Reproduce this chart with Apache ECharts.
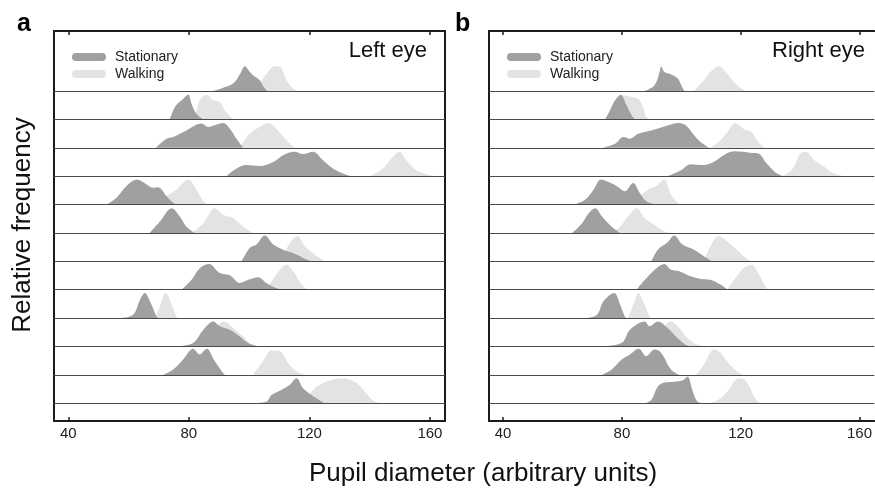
<!DOCTYPE html>
<html>
<head>
<meta charset="utf-8">
<script src="https://cdn.jsdelivr.net/npm/echarts@6/dist/echarts.min.js"></script>
<style>
  html, body { margin: 0; padding: 0; background: #fff; }
  #chart { width: 875px; height: 490px; }
</style>
</head>
<body>
<div id="chart"></div>
<script>
// density curves, [pupil diameter, relative height of the row], top row first
const leftStationary = [
  [[88,0],[91,0.1],[94.7,0.26],[97,0.6],[98.6,0.87],[100,0.7],[101.3,0.55],[103.5,0.38],[104.8,0.15],[106,0]],
  [[73.7,0],[75.4,0.44],[77.6,0.67],[79.8,0.87],[80.9,0.55],[82.5,0.2],[84.8,0]],
  [[69,0],[72.6,0.32],[74.8,0.38],[79.2,0.61],[84.2,0.85],[86.4,0.73],[88.6,0.79],[91.4,0.87],[93.6,0.67],[95.8,0.32],[98,0]],
  [[92.5,0],[95.8,0.27],[99.1,0.39],[103.5,0.36],[108,0.5],[111.3,0.74],[115.1,0.86],[117.9,0.78],[121.2,0.86],[124.5,0.56],[127.8,0.27],[131.2,0.09],[133.5,0]],
  [[52.7,0],[56,0.24],[59.3,0.65],[62.7,0.88],[66,0.71],[68.2,0.59],[69.8,0.61],[72.6,0.29],[74.8,0.06],[76,0]],
  [[67,0],[70.4,0.4],[74.3,0.87],[77,0.58],[79.2,0.22],[82,0]],
  [[97.5,0],[100.2,0.47],[102.4,0.59],[105.2,0.91],[108,0.59],[111.3,0.41],[114.6,0.29],[117.9,0.12],[120.7,0]],
  [[77.6,0],[80.9,0.35],[83.6,0.76],[86.7,0.91],[90.3,0.59],[93.6,0.51],[96.9,0.24],[99.7,0.35],[103,0.44],[105.7,0.24],[109,0.06],[111.3,0]],
  [[57,0],[61.5,0.12],[63.8,0.65],[65.4,0.88],[67.1,0.59],[69.3,0.05],[70,0]],
  [[76,0],[81.4,0.12],[84.8,0.59],[88.1,0.88],[90.3,0.71],[93.6,0.59],[96.9,0.35],[99.7,0.12],[103,0]],
  [[71.5,0],[74.8,0.19],[78.1,0.54],[81.4,0.92],[83.6,0.72],[85.9,0.92],[88.6,0.48],[91.4,0.06],[92,0]],
  [[101.3,0],[105.7,0.05],[107.4,0.29],[110.7,0.47],[113.5,0.65],[115.7,0.88],[117.9,0.53],[120.7,0.29],[123.5,0.1],[125.1,0]]
];
const leftWalking = [
  [[102.5,0],[103.5,0.25],[105.7,0.6],[108.5,0.87],[110.2,0.85],[112.4,0.38],[114.5,0.1],[116.2,0]],
  [[82,0],[83.6,0.67],[85.9,0.87],[88.1,0.67],[90.3,0.61],[91.9,0.32],[94.7,0]],
  [[96.9,0],[100.2,0.49],[103.5,0.73],[106.3,0.87],[109,0.67],[112.4,0.26],[115.1,0]],
  [[140,0],[144.4,0.27],[147.7,0.68],[149.9,0.86],[152.2,0.56],[155.5,0.21],[159.9,0.04],[162,0]],
  [[69.3,0],[72.6,0.29],[75.9,0.53],[79.8,0.88],[82.5,0.53],[84.8,0.12],[86.4,0]],
  [[80.9,0],[84.8,0.34],[88.6,0.87],[91.4,0.64],[94.7,0.52],[98,0.22],[101.3,0]],
  [[110.2,0],[113.6,0.65],[116,0.88],[118.5,0.53],[121.8,0.24],[125.1,0]],
  [[105.7,0],[109,0.53],[112.4,0.88],[115.1,0.59],[117.3,0.18],[119.6,0]],
  [[68.7,0],[70.4,0.41],[72.3,0.88],[74.3,0.47],[75.9,0.05],[76.5,0]],
  [[85.9,0],[89.2,0.71],[91.7,0.88],[94.7,0.65],[98,0.35],[101,0]],
  [[101.3,0],[104.6,0.48],[107.4,0.86],[110.2,0.84],[112.9,0.42],[115.7,0.13],[118.5,0]],
  [[117.9,0],[121.8,0.53],[125.6,0.76],[131.1,0.88],[135.6,0.71],[138.9,0.35],[141.1,0.1],[143.9,0]]
];
const rightStationary = [
  [[87.7,0],[91,0.2],[92.7,0.67],[93.2,0.87],[94.3,0.67],[96.5,0.59],[98.8,0.44],[100,0.2],[101,0]],
  [[74.4,0],[76,0.32],[77.7,0.67],[79.6,0.87],[81.6,0.49],[83,0.2],[84.3,0]],
  [[73.3,0],[77.7,0.14],[80.5,0.38],[82.7,0.32],[85.5,0.49],[89.9,0.61],[93.2,0.71],[96.5,0.82],[98.8,0.87],[101.5,0.79],[104.3,0.44],[106.5,0.2],[109.3,0]],
  [[95.4,0],[99.9,0.21],[103.2,0.42],[107.6,0.39],[111,0.51],[114.3,0.74],[117.6,0.88],[120.9,0.86],[123.1,0.82],[125.9,0.8],[128.7,0.45],[131.5,0.15],[134.2,0]],
  [[63.8,0],[67.7,0.18],[70.5,0.53],[72.9,0.88],[75.5,0.79],[78.2,0.65],[81,0.47],[83.8,0.76],[86,0.41],[88.2,0.12],[91.6,0]],
  [[63.3,0],[66.6,0.34],[68.8,0.69],[71,0.87],[73.3,0.58],[76.6,0.22],[79.4,0]],
  [[89.9,0],[92.1,0.41],[95.4,0.67],[97.6,0.91],[100.4,0.59],[104.3,0.41],[107.6,0.18],[110.4,0]],
  [[84.9,0],[88.8,0.47],[91.6,0.76],[94.3,0.91],[96.5,0.71],[99.3,0.65],[103.2,0.47],[106.5,0.38],[109.8,0.35],[113.2,0.18],[115.4,0.02],[116,0]],
  [[67.7,0],[71.6,0.12],[73.8,0.59],[77.4,0.88],[79.4,0.47],[81,0.05],[81.6,0]],
  [[72.2,0],[79.9,0.12],[82.7,0.59],[87.7,0.88],[89.3,0.71],[92.1,0.88],[95.4,0.65],[98.8,0.29],[101.5,0.06],[103.2,0]],
  [[73.3,0],[76.6,0.19],[79.9,0.54],[82.7,0.72],[85.7,0.92],[88.2,0.66],[91,0.89],[93.2,0.78],[96.5,0.19],[99.3,0]],
  [[87.7,0],[89.9,0.12],[92.1,0.59],[94.3,0.73],[97.6,0.76],[100.4,0.8],[102.1,0.94],[103.7,0.47],[105.4,0.06],[107.6,0]]
];
const rightWalking = [
  [[104.3,0],[107.6,0.38],[110.4,0.73],[112.6,0.87],[115.4,0.61],[118.2,0.26],[121.5,0]],
  [[77.7,0],[80.5,0.85],[83.2,0.79],[85.5,0.73],[87.1,0.44],[88.2,0.08],[89.9,0]],
  [[109.8,0],[113.2,0.26],[115.9,0.61],[118.2,0.87],[120.9,0.67],[123.7,0.55],[125.9,0.2],[128.1,0]],
  [[134.2,0],[137.6,0.27],[140.3,0.82],[142,0.86],[144.8,0.56],[148.1,0.33],[151.4,0.09],[154.7,0]],
  [[81,0],[86.6,0.35],[89.9,0.59],[91.6,0.65],[94.3,0.88],[96.5,0.35],[98.8,0.06],[99.5,0]],
  [[76.6,0],[79.4,0.22],[82.1,0.58],[84.9,0.87],[87.7,0.52],[91,0.28],[94.3,0.05],[96.5,0]],
  [[107.6,0],[109.8,0.53],[112.6,0.88],[115.4,0.71],[118.7,0.41],[122,0.1],[123.7,0]],
  [[115.4,0],[118.2,0.41],[120.9,0.76],[123.7,0.88],[125.9,0.59],[128.7,0.06],[129.5,0]],
  [[82.1,0],[84.3,0.59],[85.5,0.88],[87.1,0.59],[89.3,0.05],[89.9,0]],
  [[89,0],[94.3,0.71],[96.5,0.88],[99.3,0.65],[101.5,0.35],[104.3,0.12],[107.6,0]],
  [[104.9,0],[107.6,0.36],[111,0.89],[113.2,0.78],[115.4,0.48],[118.7,0.13],[120.9,0]],
  [[109.8,0],[113.2,0.18],[115.9,0.47],[118.2,0.82],[120.4,0.88],[122.6,0.65],[124.8,0.18],[126.5,0]]
];
const xTicks = [40, 80, 120, 160];
const rowBaselines = [11, 10, 9, 8, 7, 6, 5, 4, 3, 2, 1, 0];

const FONT = 'Liberation Sans';
const STAT_COLOR = '#a0a0a0';
const WALK_COLOR = '#e3e3e3';
const FRAME = '#1c1c1c';
const PILL = 'path://M4,0 L30,0 A4,4 0 0 1 30,8 L4,8 A4,4 0 0 1 4,0 Z';

const chart = echarts.init(document.getElementById('chart'));

function ridge(name, rows, panel, color, z) {
  return rows.map((pts, i) => {
    const base = rowBaselines[i];
    return {
      name: name,
      type: 'line',
      xAxisIndex: panel,
      yAxisIndex: panel,
      data: pts.map(p => [p[0], base + p[1]]),
      smooth: 0.35,
      symbol: 'none',
      color: color,
      itemStyle: { color: color },
      lineStyle: { width: 0, color: color },
      areaStyle: { color: color, opacity: 1, origin: base },
      z: z,
      silent: true
    };
  });
}

function baselineSeries(panel) {
  return {
    type: 'line',
    xAxisIndex: panel,
    yAxisIndex: panel,
    data: [],
    z: 5,
    silent: true,
    markLine: {
      silent: true,
      symbol: ['none', 'none'],
      label: { show: false },
      lineStyle: { color: '#4a4a4a', width: 1, type: 'solid' },
      data: rowBaselines.map(v => ({ yAxis: v }))
    }
  };
}

const yMin = -0.624, yMax = 13.112;

function bottomAxis(grid) {
  return {
    type: 'value', gridIndex: grid, position: 'bottom', min: 35.25, max: 165,
    axisLine: { show: true, onZero: false, lineStyle: { color: FRAME, width: 2 } },
    axisTick: { show: true, inside: true, length: 4, customValues: xTicks, lineStyle: { color: FRAME, width: 1.5 } },
    axisLabel: { show: true, customValues: xTicks, margin: 5, fontFamily: FONT, fontSize: 15, color: '#222' },
    splitLine: { show: false }
  };
}
function topAxis(grid) {
  return {
    type: 'value', gridIndex: grid, position: 'top', min: 35.25, max: 165,
    axisLine: { show: true, onZero: false, lineStyle: { color: FRAME, width: 2 } },
    axisTick: { show: true, inside: true, length: 4, customValues: xTicks, lineStyle: { color: FRAME, width: 1.5 } },
    axisLabel: { show: false },
    splitLine: { show: false }
  };
}
function sideAxis(grid, pos) {
  return {
    type: 'value', gridIndex: grid, position: pos, min: yMin, max: yMax,
    axisLine: { show: true, onZero: false, lineStyle: { color: FRAME, width: 2 } },
    axisTick: { show: false }, axisLabel: { show: false }, splitLine: { show: false }
  };
}

function legendFor(left) {
  return {
    left: left, top: 45, orient: 'vertical', icon: PILL,
    itemWidth: 34, itemHeight: 8, itemGap: 3,
    selectedMode: false,
    data: ['Stationary', 'Walking'],
    textStyle: { fontFamily: FONT, fontSize: 14, color: '#222', padding: [0, 0, 0, 4] }
  };
}

chart.setOption({
  animation: false,
  backgroundColor: '#fff',
  grid: [
    { left: 54, top: 31, width: 391, height: 390 },
    { left: 489, top: 31, width: 391, height: 390 }
  ],
  xAxis: [bottomAxis(0), bottomAxis(1), topAxis(0), topAxis(1)],
  yAxis: [sideAxis(0, 'left'), sideAxis(1, 'left'), sideAxis(0, 'right')],
  legend: [legendFor(67), legendFor(502)],
  graphic: [
    { type: 'text', left: 17, top: 12, style: { text: 'a', font: 'bold 25px "Liberation Sans"', fill: '#000' } },
    { type: 'text', left: 455, top: 12, style: { text: 'b', font: 'bold 25px "Liberation Sans"', fill: '#000' } },
    { type: 'text', x: 427, y: 51, style: { text: 'Left eye', font: '22px "Liberation Sans"', fill: '#111', align: 'right', verticalAlign: 'middle' } },
    { type: 'text', x: 865, y: 51, style: { text: 'Right eye', font: '22px "Liberation Sans"', fill: '#111', align: 'right', verticalAlign: 'middle' } },
    { type: 'text', x: 23, y: 225, rotation: Math.PI / 2, style: { text: 'Relative frequency', font: '26px "Liberation Sans"', fill: '#111', align: 'center', verticalAlign: 'middle' } },
    { type: 'text', x: 483, y: 474, style: { text: 'Pupil diameter (arbitrary units)', font: '26px "Liberation Sans"', fill: '#111', align: 'center', verticalAlign: 'middle' } }
  ],
  series: [].concat(
    ridge('Walking', leftWalking, 0, WALK_COLOR, 2),
    ridge('Stationary', leftStationary, 0, STAT_COLOR, 3),
    ridge('Walking', rightWalking, 1, WALK_COLOR, 2),
    ridge('Stationary', rightStationary, 1, STAT_COLOR, 3),
    [baselineSeries(0), baselineSeries(1)]
  )
});

window.addEventListener('resize', () => chart.resize());
</script>
</body>
</html>
